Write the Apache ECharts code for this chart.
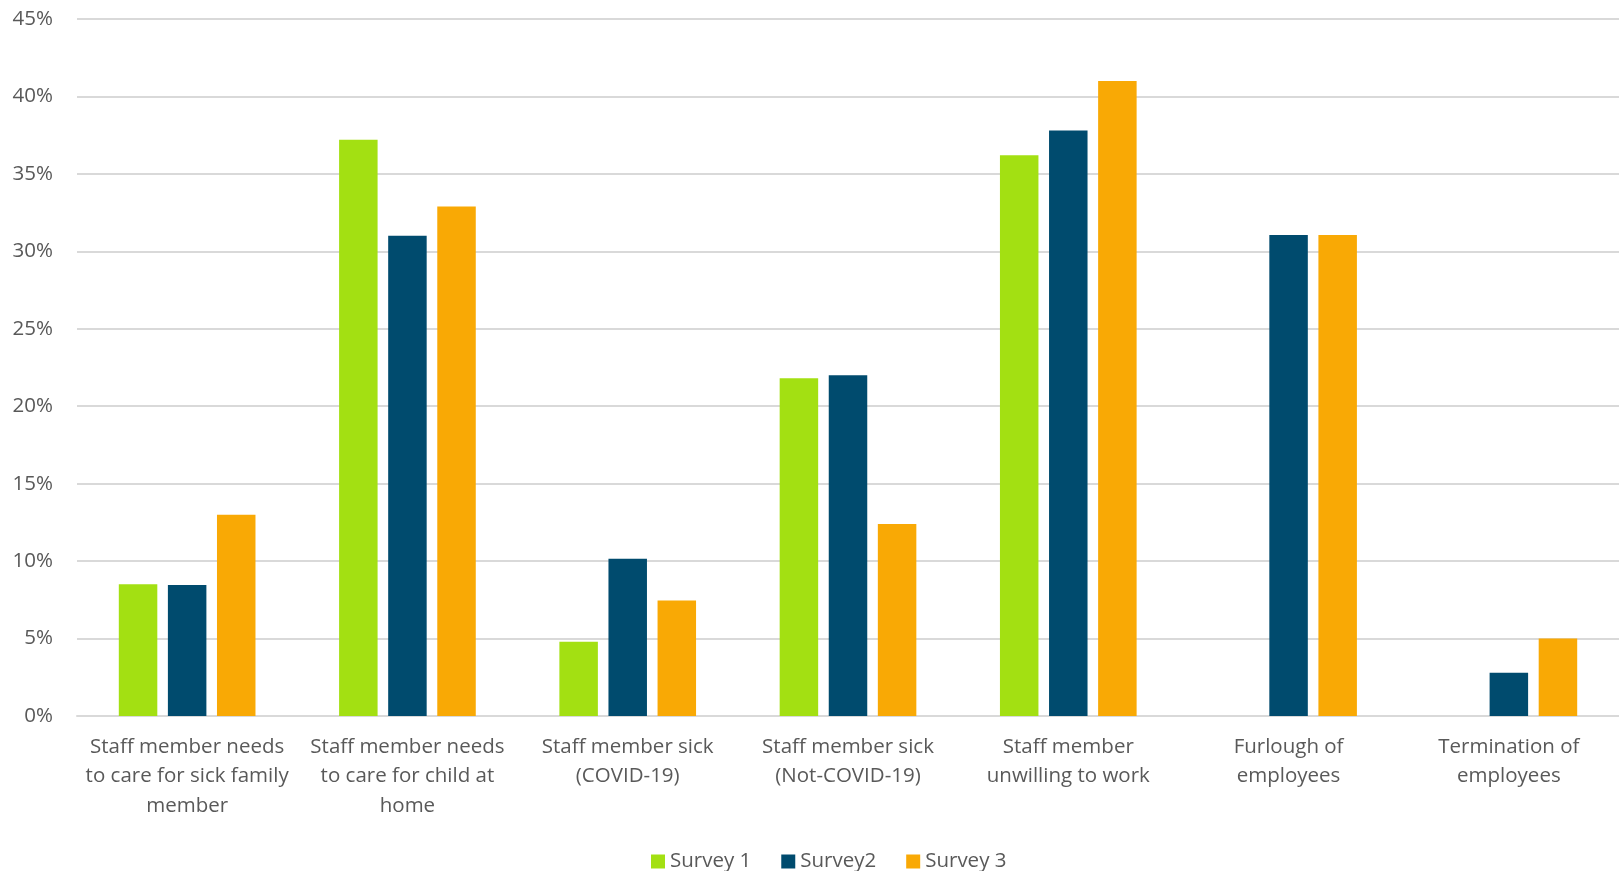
<!DOCTYPE html>
<html>
<head>
<meta charset="utf-8">
<script src="https://cdn.jsdelivr.net/npm/echarts@6/dist/echarts.min.js"></script>
<style>html,body{margin:0;padding:0;background:#fff}#c{width:1619px;height:871px}</style>
</head>
<body>
<div id="c"></div>
<script>
const categories = [
  "Staff member needs\nto care for sick family\nmember",
  "Staff member needs\nto care for child at\nhome",
  "Staff member sick\n(COVID-19)",
  "Staff member sick\n(Not-COVID-19)",
  "Staff member\nunwilling to work",
  "Furlough of\nemployees",
  "Termination of\nemployees"
];
const seriesNames = ["Survey 1", "Survey2", "Survey 3"];
const survey1 = [8.5, 37.2, 4.8, 21.8, 36.2, null, null];
const survey2 = [8.45, 31.0, 10.15, 22.0, 37.8, 31.05, 2.8];
const survey3 = [13.0, 32.9, 7.45, 12.4, 41.0, 31.05, 5.0];
const yTicks = { min: 0, max: 45, interval: 5 };
const colors = ["#A3E012", "#004B6E", "#F9A905"];

const chart = echarts.init(document.getElementById('c'));
const font = "'Open Sans', 'Noto Sans', sans-serif";
const mk = (name, data, i) => ({
  name, type: 'bar', data,
  barWidth: 38.5, barGap: '27.5%',
  itemStyle: { color: colors[i] },
  emphasis: { disabled: true }
});
chart.setOption({
  animation: false,
  textStyle: { fontFamily: font },
  grid: { left: 77, right: 0, top: 19, bottom: 155, containLabel: false, outerBoundsMode: 'none' },
  legend: {
    top: 846, left: 646,
    itemWidth: 14, itemHeight: 14, itemGap: 30,
    icon: 'rect',
    textStyle: { color: '#595959', fontSize: 20.5, fontFamily: font },
    data: seriesNames
  },
  xAxis: {
    type: 'category', data: categories,
    axisLine: { lineStyle: { color: '#d9d9d9', width: 2 } },
    axisTick: { show: false },
    axisLabel: { color: '#595959', fontSize: 20.5, lineHeight: 29.5, margin: 16, interval: 0, fontFamily: font }
  },
  yAxis: {
    type: 'value', min: yTicks.min, max: yTicks.max, interval: yTicks.interval,
    axisLine: { show: false }, axisTick: { show: false },
    splitLine: { lineStyle: { color: '#d9d9d9', width: 2 } },
    axisLabel: { color: '#595959', fontSize: 20.5, margin: 24, formatter: '{value}%', fontFamily: font }
  },
  series: [mk(seriesNames[0], survey1, 0), mk(seriesNames[1], survey2, 1), mk(seriesNames[2], survey3, 2)]
});
</script>
</body>
</html>
